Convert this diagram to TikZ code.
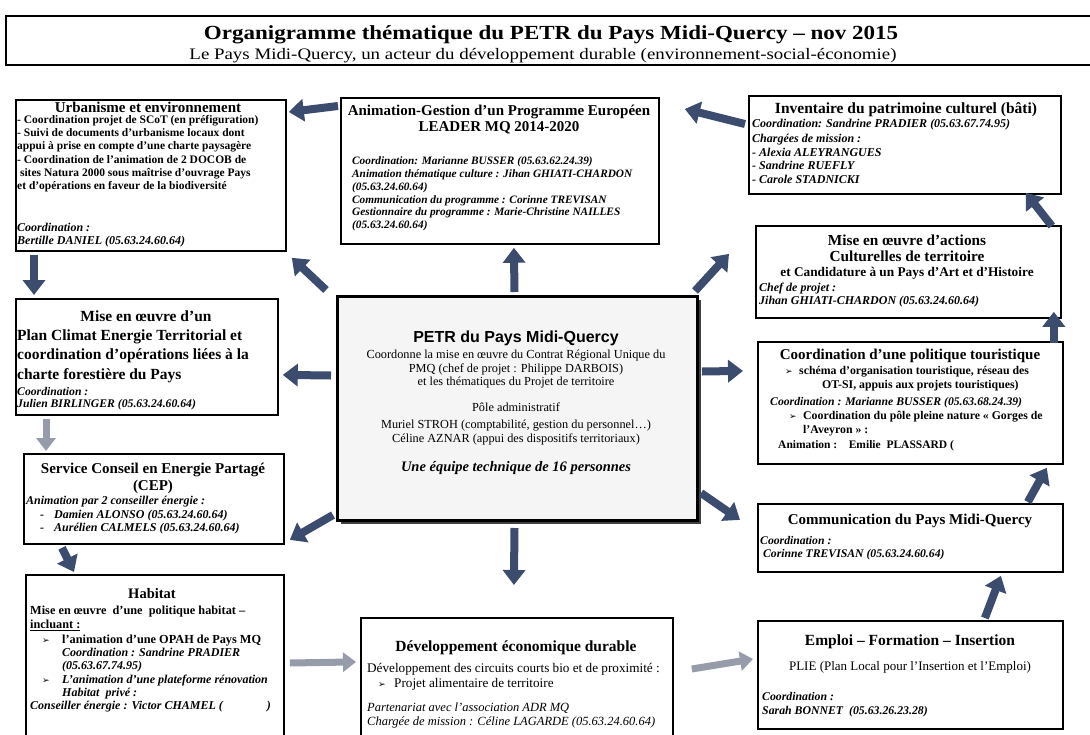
\documentclass[tikz,border=0pt]{standalone}
\usepackage{fontspec}
\setmainfont{Liberation Serif}
\newfontfamily\arialf{Liberation Sans}
\newfontfamily\djv{DejaVu Sans}
\newfontfamily\ttlfont{Liberation Serif}[FakeStretch=1.15]
\newfontfamily\subfont{Liberation Serif}[FakeStretch=1.18]
\usetikzlibrary{arrows.meta,calc,shadows}
\definecolor{arr}{RGB}{60,76,110}
\definecolor{garr}{RGB}{150,156,170}
\newcommand{\bul}{{\djv\fontsize{9}{9}\selectfont ➢}}
\begin{document}
\begin{tikzpicture}[x=1pt,y=-1pt,
 bx/.style={draw=black, line width=1.8pt, anchor=north west, inner sep=0pt, fill=white},
 tl/.style={inner sep=0pt, anchor=north west, align=left},
 tc/.style={inner sep=0pt, anchor=north, align=center},
 bw/.style={inner sep=0pt, anchor=base west},
 bc/.style={inner sep=0pt, anchor=base},
 ttl/.style={font=\fontsize{15}{16}\selectfont\bfseries},
 blk/.style={draw=arr, line width=8pt, -{Triangle[width=22pt,length=15pt]}},
 gblk/.style={draw=garr, line width=7pt, -{Triangle[width=19pt,length=13pt]}},
]
\useasboundingbox (0,0) rectangle (1090,734);
\fill[white] (0,0) rectangle (1090,734);

% ---------- title
\node[bx, line width=1.6pt, minimum width=1090pt, minimum height=49pt] (tbox) at (5,15) {};
\node[bc, font=\ttlfont\fontsize{20}{22}\selectfont\bfseries] (ttl) at (551,39) {Organigramme thématique du PETR du Pays Midi-Quercy – nov 2015};
\node[bc, font=\subfont\fontsize{16}{18}\selectfont] (sub) at (543,59) {Le Pays Midi-Quercy, un acteur du développement durable (environnement-social-économie)};

% ---------- Urbanisme
\node[bx, minimum width=270pt, minimum height=151pt] (urb) at (15,99) {};
\node[bc, ttl] (u0) at (148,112) {Urbanisme et environnement};
\node[tl, font=\fontsize{11.5}{13.35}\selectfont\bfseries] (u1) at (17,113.6) {\strut- Coordination projet de SCoT (en préfiguration)\\- Suivi de documents d'urbanisme locaux dont\\appui à prise en compte d'une charte paysagère\\- Coordination de l'animation de 2 DOCOB de\\\ sites Natura 2000 sous maîtrise d'ouvrage Pays\\et d'opérations en faveur de la biodiversité};
\node[tl, font=\fontsize{12}{13.5}\selectfont\bfseries\itshape] (u2) at (17,221.5) {\strut Coordination :\\Bertille DANIEL (05.63.24.60.64)};

% ---------- LEADER
\node[bx, minimum width=318pt, minimum height=146pt] (leader) at (340,97) {};
\node[tc, font=\fontsize{15}{16}\selectfont\bfseries] (l0) at (499,104.5) {\strut Animation-Gestion d'un Programme Européen\\LEADER MQ 2014-2020};
\node[tl, font=\fontsize{11.3}{12.7}\selectfont\bfseries\itshape] (l1) at (352,155.9) {\strut Coordination: Marianne BUSSER (05.63.62.24.39)\\Animation thématique culture : Jihan GHIATI-CHARDON\\(05.63.24.60.64)\\Communication du programme : Corinne TREVISAN\\Gestionnaire du programme : Marie-Christine NAILLES\\(05.63.24.60.64)};

% ---------- Inventaire
\node[bx, minimum width=312pt, minimum height=98pt] (inv) at (748,95) {};
\node[bc, font=\fontsize{15.5}{17}\selectfont\bfseries] (i0) at (906,113) {Inventaire du patrimoine culturel (bâti)};
\node[bw, font=\fontsize{12}{13.5}\selectfont\bfseries\itshape] (i1) at (752,127) {Coordination: Sandrine PRADIER (05.63.67.74.95)};
\node[tl, font=\fontsize{12}{13.5}\selectfont\bfseries\itshape] (i2) at (752,133) {\strut Chargées de mission :\\- Alexia ALEYRANGUES\\- Sandrine RUEFLY\\- Carole STADNICKI};

% ---------- Plan Climat
\node[bx, minimum width=262pt, minimum height=116pt] (pc) at (15,298) {};
\node[bc, font=\fontsize{15.5}{17}\selectfont\bfseries] (p0) at (146,321) {Mise en œuvre d'un};
\node[tl, font=\fontsize{15.5}{19.5}\selectfont\bfseries] (p1) at (17,326.2) {\strut Plan Climat Energie Territorial et\\coordination d’opérations liées à la\\charte forestière du Pays};
\node[tl, font=\fontsize{11.7}{12.5}\selectfont\bfseries\itshape] (p2) at (17,386.2) {\strut Coordination :\\Julien BIRLINGER (05.63.24.60.64)};

% ---------- Culturelles
\node[bx, minimum width=305pt, minimum height=92pt] (cult) at (755,225) {};
\node[tc, font=\fontsize{15.3}{16}\selectfont\bfseries] (c0) at (907,233.6) {\strut Mise en œuvre d’actions\\Culturelles de territoire};
\node[bc, font=\fontsize{13.3}{14}\selectfont\bfseries] (c1) at (907,276.5) {et Candidature à un Pays d’Art et d’Histoire};
\node[tl, font=\fontsize{12}{13}\selectfont\bfseries\itshape] (c2) at (759,281.9) {\strut Chef de projet :\\Jihan GHIATI-CHARDON (05.63.24.60.64)};

% ---------- PETR
\node[bx, line width=3pt, minimum width=360pt, minimum height=224pt, fill=black!4,
      drop shadow={shadow xshift=3pt, shadow yshift=-3pt, fill=black!75, opacity=1}] (petr) at (336,295) {};
\node[bc, font=\fontsize{16}{18}\selectfont\arialf\bfseries] (e0) at (516,342) {PETR du Pays Midi-Quercy};
\node[tc, font=\fontsize{12.3}{13.8}\selectfont] (e1) at (516,348.4) {\strut Coordonne la mise en œuvre du Contrat Régional Unique du\\PMQ (chef de projet : Philippe DARBOIS)\\et les thématiques du Projet de territoire};
\node[bc, font=\fontsize{12.3}{13.8}\selectfont] (e2) at (516,411) {Pôle administratif};
\node[tc, font=\fontsize{12.3}{14}\selectfont] (e3) at (516,418.3) {\strut Muriel STROH (comptabilité, gestion du personnel…)\\Céline AZNAR (appui des dispositifs territoriaux)};
\node[bc, font=\fontsize{14.5}{16}\selectfont\bfseries\itshape] (e4) at (516,471) {Une équipe technique de 16 personnes};

% ---------- Tourisme
\node[bx, minimum width=305pt, minimum height=122pt] (tour) at (757,341) {};
\node[bc, ttl] (t0) at (910,359) {Coordination d'une politique touristique};
\node[bw] (t1b) at (785,374) {\bul};
\node[bw, font=\fontsize{11.8}{13}\selectfont\bfseries] (t1) at (799,374) {schéma d'organisation touristique, réseau des};
\node[bw, font=\fontsize{11.8}{13}\selectfont\bfseries] (t2) at (822,388) {OT-SI, appuis aux projets touristiques)};
\node[bw, font=\fontsize{11.7}{13}\selectfont\bfseries\itshape] (t3) at (770,405) {Coordination : Marianne BUSSER (05.63.68.24.39)};
\node[bw] (t4b) at (789,419) {\bul};
\node[bw, font=\fontsize{11.8}{13}\selectfont\bfseries] (t4) at (803,419) {Coordination du pôle pleine nature « Gorges de};
\node[bw, font=\fontsize{11.8}{13}\selectfont\bfseries] (t5) at (803,433) {l'Aveyron » :};
\node[bw, font=\fontsize{11.5}{13}\selectfont\bfseries] (t6) at (778,448) {Animation :\quad Emilie\ \ PLASSARD (};

% ---------- CEP
\node[bx, minimum width=260pt, minimum height=90pt] (cep) at (23,453) {};
\node[tc, font=\fontsize{15}{17}\selectfont\bfseries] (s0) at (153,460.9) {\strut Service Conseil en Energie Partagé\\(CEP)};
\node[bw, font=\fontsize{12}{13}\selectfont\bfseries\itshape] (s1) at (26,504) {Animation par 2 conseiller énergie :};
\node[tl, font=\fontsize{12}{13.5}\selectfont\bfseries\itshape] (s2) at (40,508.5) {\strut -\hspace{10pt}Damien ALONSO (05.63.24.60.64)\\-\hspace{10pt}Aurélien CALMELS (05.63.24.60.64)};

% ---------- Communication
\node[bx, minimum width=305pt, minimum height=68pt] (comm) at (757,503) {};
\node[bc, ttl] (m0) at (910,524) {Communication du Pays Midi-Quercy};
\node[tl, font=\fontsize{11.7}{13}\selectfont\bfseries\itshape] (m1) at (760,534.8) {\strut Coordination :\\\ Corinne TREVISAN (05.63.24.60.64)};

% ---------- Habitat
\node[bx, minimum width=258pt, minimum height=170pt] (hab) at (25,574) {};
\node[bc, font=\fontsize{14.5}{16}\selectfont\bfseries] (h0) at (152,598) {Habitat};
\node[tl, font=\fontsize{12.3}{14}\selectfont\bfseries] (h1) at (30,604.3) {\strut Mise en œuvre\ \ d'une\ \ politique habitat –\\\underline{incluant :}};
\node[bw] (h2b) at (42,643) {\bul};
\node[bw, font=\fontsize{12.3}{13}\selectfont\bfseries] (h2) at (62,643) {l'animation d'une OPAH de Pays MQ};
\node[tl, font=\fontsize{12}{13}\selectfont\bfseries\itshape] (h3) at (62,646.9) {\strut Coordination : Sandrine PRADIER\\(05.63.67.74.95)};
\node[bw] (h4b) at (42,683) {\bul};
\node[tl, font=\fontsize{12}{13}\selectfont\bfseries\itshape] (h4) at (62,673.9) {\strut L'animation d'une plateforme rénovation\\Habitat\ \ privé :};
\node[bw, font=\fontsize{12}{13}\selectfont\bfseries\itshape] (h5) at (30,709) {Conseiller énergie : Victor CHAMEL (\hspace{44pt})};

% ---------- Developpement
\node[bx, minimum width=312pt, minimum height=125pt] (dev) at (360,617) {};
\node[bc, font=\fontsize{15.5}{17}\selectfont\bfseries] (d0) at (516,651) {Développement économique durable};
\node[bw, font=\fontsize{13.2}{14}\selectfont] (d1) at (367,672.5) {Développement des circuits courts bio et de proximité :};
\node[bw] (d2b) at (378,687.5) {\bul};
\node[bw, font=\fontsize{13.2}{14}\selectfont] (d2) at (394,687.5) {Projet alimentaire de territoire};
\node[tl, font=\fontsize{12.5}{14}\selectfont\itshape] (d3) at (367,701.3) {\strut Partenariat avec l'association ADR MQ\\Chargée de mission : Céline LAGARDE (05.63.24.60.64)};

% ---------- Emploi
\node[bx, minimum width=305pt, minimum height=108pt] (emp) at (757,620) {};
\node[bc, font=\fontsize{15.5}{17}\selectfont\bfseries] (j0) at (910,645) {Emploi – Formation – Insertion};
\node[bc, font=\fontsize{13}{14}\selectfont] (j1) at (910,670.5) {PLIE (Plan Local pour l'Insertion et l'Emploi)};
\node[tl, font=\fontsize{11.8}{14}\selectfont\bfseries\itshape] (j2) at (762,690.2) {\strut Coordination :\\Sarah BONNET\ \ (05.63.26.23.28)};

% ---------- arrows
\draw[blk] ([xshift=-2pt,yshift=-9pt]leader.north west) -- ([xshift=2pt,yshift=-13pt]urb.north east);
\draw[blk] ([xshift=-3pt,yshift=-29pt]inv.north west) -- ([xshift=25pt,yshift=-12pt]leader.north east);
\draw[blk] ([xshift=-3pt,yshift=3pt]petr.north) -- ([xshift=14pt,yshift=-3pt]leader.south);
\draw[blk] ([xshift=-10pt,yshift=5pt]petr.north west) -- ([xshift=5pt,yshift=-6pt]urb.south east);
\draw[blk] ([xshift=-5pt,yshift=33pt]petr.west) -- ([xshift=4pt,yshift=-18pt]pc.east);
\draw[blk] ([xshift=-3pt,yshift=7pt]petr.south west) -- ([xshift=5pt,yshift=-41pt]cep.east);
\draw[blk] ([xshift=-3pt,yshift=-6pt]petr.south) -- ([xshift=-3pt,yshift=32pt]dev.north);
\draw[blk] ([xshift=2pt,yshift=29pt]petr.south east) -- ([xshift=-17pt,yshift=18pt]comm.west);
\draw[blk] ([xshift=3pt,yshift=37pt]petr.east) -- ([xshift=-14pt,yshift=32pt]tour.west);
\draw[blk] ([xshift=-4pt,yshift=4pt]petr.north east) -- ([xshift=-26pt,yshift=18pt]cult.west);
\draw[blk] ([xshift=19pt,yshift=-3pt]urb.south west) -- ([xshift=19pt,yshift=3pt]pc.north west);
\draw[gblk] ([xshift=31pt,yshift=-3pt]pc.south west) -- ([xshift=23pt,yshift=2pt]cep.north west);
\draw[blk] ([xshift=39pt,yshift=-3pt]cep.south west) -- ([xshift=49pt,yshift=2pt]hab.north west);
\draw[gblk] ([xshift=5pt,yshift=-89pt]hab.north east) -- ([xshift=-4pt,yshift=18.5pt]dev.west);
\draw[gblk] ([xshift=18pt,yshift=-52pt]dev.north east) -- ([xshift=-4pt,yshift=-39pt]emp.north west);
\draw[blk] ([xshift=74.5pt,yshift=2pt]emp.north) -- ([xshift=90.5pt,yshift=-3pt]comm.south);
\draw[blk] ([xshift=-36pt,yshift=1pt]comm.north east) -- ([xshift=-17pt,yshift=-3pt]tour.south east);
\draw[blk] ([xshift=-10pt,yshift=-2pt]tour.north east) -- ([xshift=-8pt,yshift=7pt]cult.south east);
\draw[blk] ([xshift=-10pt,yshift=-1pt]cult.north east) -- ([xshift=-36pt,yshift=2pt]inv.south east);
\end{tikzpicture}
\end{document}
